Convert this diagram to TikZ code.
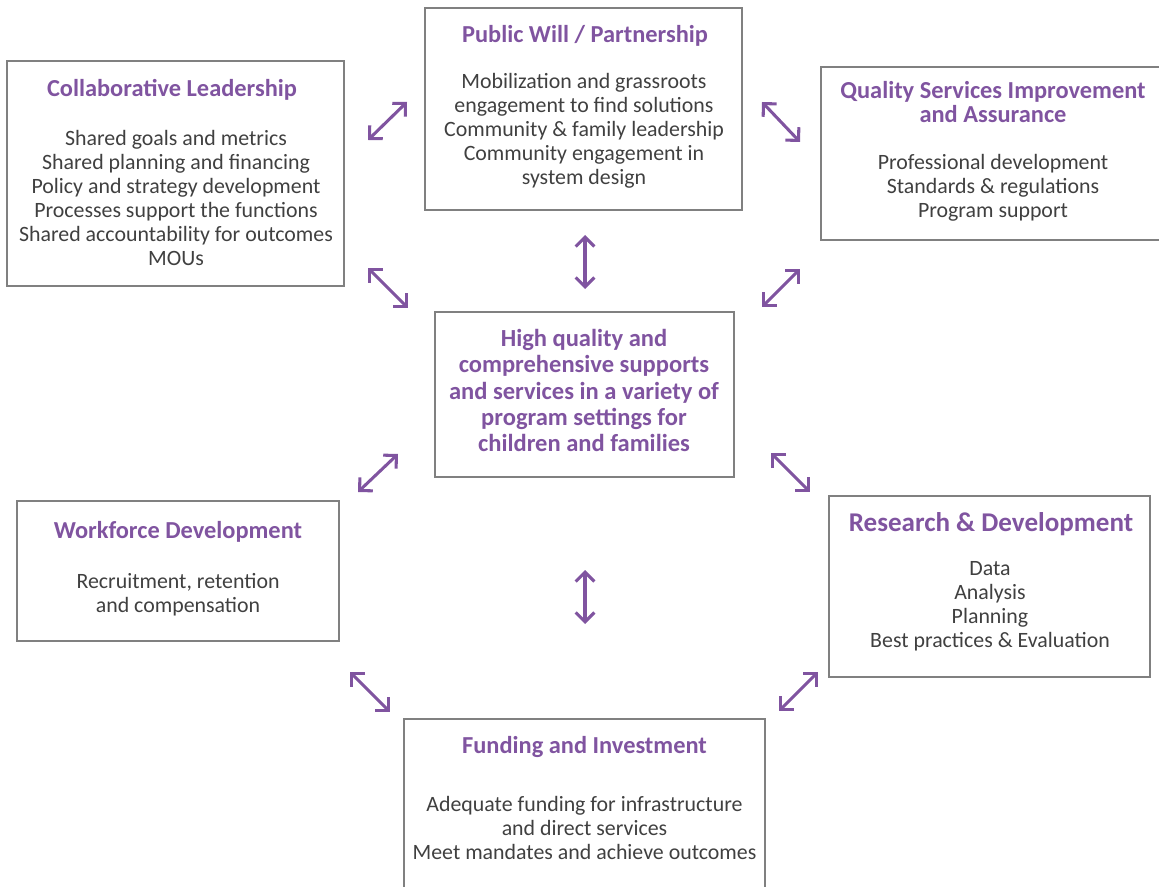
\documentclass[tikz,border=0pt]{standalone}
\usepackage{fontspec}
\setmainfont{Carlito}
\usetikzlibrary{arrows.meta}
\definecolor{purp}{RGB}{128,84,160}
\definecolor{bodygray}{RGB}{64,64,64}
\definecolor{boxgray}{RGB}{128,128,128}
\tikzset{
  box/.style={draw=boxgray, line width=0.9pt, minimum width=#1, inner sep=0pt},
  openbox/.style={line width=0.9pt, draw=boxgray},
  ttl/.style={text=purp, font=\fontsize{18.3}{18}\selectfont\bfseries, align=center, inner sep=0pt},
  bigttl/.style={text=purp, font=\fontsize{20.3}{21}\selectfont\bfseries, align=center, inner sep=0pt},
  ctr/.style={text=purp, font=\fontsize{18.4}{19.8}\selectfont\bfseries, align=center, inner sep=0pt},
  bodytxt/.style={text=bodygray, font=\fontsize{16.4}{18}\selectfont, align=center, inner sep=0pt},
  dbl/.style={purp, line width=2.3pt, {Straight Barb[length=7pt,width=14pt,line width=2.3pt]}-{Straight Barb[length=7pt,width=14pt,line width=2.3pt]}}
}
\begin{document}
\begin{tikzpicture}[x=0.75pt,y=-0.75pt]
\useasboundingbox (0,0) rectangle (1159,887);
% boxes
\node[box=252.75pt, minimum height=168.75pt] (collab) at (175.5,173.5) {};
\node[box=237.75pt, minimum height=151.5pt] (public) at (583.5,109) {};
\node[box=224.25pt, minimum height=123.75pt] (center) at (584.5,394.5) {};
\node[box=241.5pt, minimum height=105pt] (work) at (178,571) {};
\node[box=240.75pt, minimum height=135.75pt] (research) at (989.5,586.5) {};
\coordinate (quality) at (990,153.5);
\draw[openbox] (1160,67) -- (821,67) -- (821,240) -- (1160,240);
\coordinate (funding) at (584.5,803);
\draw[openbox] (404,890) -- (404,719) -- (765,719) -- (765,890);
% texts
\node[ttl] (collabT) at (172,89.5) {Collaborative Leadership};
\node[bodytxt] (collabB) at (176,197.5) {Shared goals and metrics\\Shared planning and financing\\Policy and strategy development\\Processes support the functions\\Shared accountability for outcomes\\MOUs};
\node[ttl] (publicT) at (585,36) {Public Will / Partnership};
\node[bodytxt] (publicB) at (584,130.5) {Mobilization and grassroots\\engagement to find solutions\\Community \& family leadership\\Community engagement in\\system design};
\node[ttl] (qualityT) at (993,102.5) {Quality Services Improvement\\and Assurance};
\node[bodytxt] (qualityB) at (993,188) {Professional development\\Standards \& regulations\\Program support};
\node[ctr] (centerT) at (584,390.5) {High quality and\\comprehensive supports\\and services in a variety of\\program settings for\\children and families};
\node[ttl] (workT) at (178,532) {Workforce Development};
\node[bodytxt] (workB) at (178,594.5) {Recruitment, retention\\and compensation};
\node[bigttl] (researchT) at (991,524.5) {Research \& Development};
\node[bodytxt] (researchB) at (990,606.5) {Data\\Analysis\\Planning\\Best practices \& Evaluation};
\node[ttl] (fundingT) at (584.5,747) {Funding and Investment};
\node[bodytxt] (fundingB) at (584.5,827.5) {Adequate funding for infrastructure\\and direct services\\Meet mandates and achieve outcomes};
% arrow end points
\coordinate (a1s) at (368,140); \coordinate (a1e) at (407,102);
\coordinate (a2s) at (762,102); \coordinate (a2e) at (800,142);
\coordinate (a3s) at (585,235); \coordinate (a3e) at (585,289);
\coordinate (a4s) at (368,268); \coordinate (a4e) at (408,308);
\coordinate (a5s) at (762,307); \coordinate (a5e) at (800,269);
\coordinate (a6s) at (358,492); \coordinate (a6e) at (398,454);
\coordinate (a7s) at (771,453); \coordinate (a7e) at (810,492);
\coordinate (a8s) at (585,570); \coordinate (a8e) at (585,624);
\coordinate (a9s) at (350,672); \coordinate (a9e) at (390,712);
\coordinate (a10s) at (779,711); \coordinate (a10e) at (818,672);
\foreach \i in {1,...,10} {\draw[dbl] (a\i s) -- (a\i e);}
\end{tikzpicture}
\end{document}
